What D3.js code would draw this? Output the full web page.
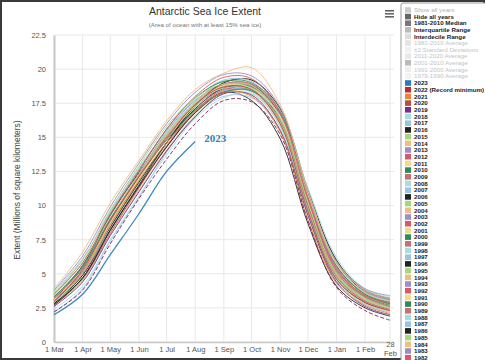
<!DOCTYPE html>
<html>
<head>
<meta charset="utf-8">
<script src="https://cdn.jsdelivr.net/npm/d3@7"></script>
<style>
  body { margin: 0; background: #fff; }
  svg { display: block; font-family: "Liberation Sans", Arial, sans-serif; }
</style>
</head>
<body>
<svg id="chart" width="485" height="360"></svg>
<script>
// month anchors (days after 1 Mar) and labels
const monthDays = [0, 31, 61, 92, 122, 153, 184, 214, 245, 275, 306, 337, 364];
const monthLabels = ['1 Mar', '1 Apr', '1 May', '1 Jun', '1 Jul', '1 Aug', '1 Sep',
                     '1 Oct', '1 Nov', '1 Dec', '1 Jan', '1 Feb', '28 Feb'];
const yTicks = [0, 2.5, 5, 7.5, 10, 12.5, 15, 17.5, 20, 22.5];

// extent per year, millions km2, read at each month anchor
const years = [2023, 2022, 2021, 2020, 2019, 2018, 2017, 2016, 2015, 2014, 2013, 2012,
  2011, 2010, 2009, 2008, 2007, 2006, 2005, 2004, 2003, 2002, 2001, 2000, 1999, 1998,
  1997, 1996, 1995, 1994, 1993, 1992, 1991, 1990, 1989, 1988, 1987, 1986, 1985, 1984,
  1983, 1982];
const extent = {
  2023: [2.0, 3.5, 6.4, 9.4, 12.5, 14.7],
  2022: [2.2, 3.8, 7.2, 10.5, 13.4, 16.0, 17.7, 17.6, 15.2, 8.9, 4.0, 2.3, 1.6],
  2021: [3.2, 5.0, 8.6, 11.8, 14.6, 16.9, 18.3, 18.0, 15.4, 9.0, 4.3, 2.7, 2.1],
  2020: [2.9, 5.3, 8.9, 12.1, 14.9, 17.4, 18.7, 18.5, 16.0, 9.6, 4.6, 2.9, 2.3],
  2019: [2.6, 4.4, 7.8, 11.0, 14.0, 16.5, 18.2, 18.1, 15.5, 9.3, 4.4, 2.6, 2.0],
  2018: [2.4, 4.1, 7.5, 10.7, 13.7, 16.4, 17.9, 18.2, 15.8, 9.4, 4.5, 2.7, 2.2],
  2017: [2.2, 3.9, 7.4, 10.6, 13.9, 16.6, 18.0, 17.9, 15.6, 9.5, 4.6, 2.8, 2.2],
  2016: [2.7, 4.7, 8.2, 11.4, 14.3, 16.8, 18.3, 17.7, 14.9, 8.7, 4.1, 2.5, 1.9],
  2015: [3.6, 6.0, 9.6, 12.9, 15.8, 17.9, 18.9, 18.6, 16.1, 9.8, 4.9, 3.1, 2.5],
  2014: [3.9, 6.6, 10.2, 13.3, 16.2, 18.5, 19.7, 20.1, 17.4, 11.1, 5.8, 3.8, 3.2],
  2013: [3.8, 6.3, 9.9, 13.1, 16.0, 18.3, 19.6, 19.5, 17.2, 11.0, 5.9, 3.9, 3.4],
  2012: [3.5, 5.8, 9.4, 12.6, 15.6, 18.0, 19.4, 19.3, 16.8, 10.6, 5.4, 3.4, 2.9],
  2011: [3.1, 5.3, 8.8, 12.0, 14.9, 17.3, 18.8, 18.6, 16.5, 10.8, 5.7, 3.6, 3.0],
  2010: [3.3, 5.6, 9.3, 12.5, 15.6, 17.9, 19.1, 19.0, 16.9, 10.9, 5.6, 3.5, 2.8],
  2009: [3.2, 5.4, 8.9, 12.1, 15.0, 17.4, 18.9, 18.9, 16.7, 10.5, 5.2, 3.3, 2.6],
  2008: [3.5, 6.0, 9.7, 12.8, 15.4, 17.5, 18.6, 18.5, 16.6, 11.3, 6.2, 3.9, 3.3],
  2007: [3.7, 6.1, 9.5, 12.7, 15.5, 17.8, 19.2, 19.1, 16.8, 10.7, 5.6, 3.7, 3.1],
  2006: [2.8, 4.7, 8.2, 11.5, 14.6, 17.3, 19.0, 19.2, 17.1, 11.2, 6.0, 3.8, 3.2],
  2005: [3.1, 5.3, 8.8, 12.1, 15.2, 17.6, 19.1, 18.8, 16.4, 10.2, 5.1, 3.2, 2.6],
  2004: [3.4, 5.8, 9.2, 12.3, 15.2, 17.5, 18.8, 18.8, 16.5, 10.3, 5.0, 3.1, 2.5],
  2003: [3.0, 5.2, 8.9, 12.3, 15.4, 17.7, 18.9, 18.7, 16.6, 10.6, 5.5, 3.6, 3.0],
  2002: [2.7, 4.6, 8.0, 11.3, 14.3, 16.9, 18.5, 18.5, 16.2, 9.9, 4.8, 3.0, 2.4],
  2001: [2.9, 4.7, 8.1, 11.2, 14.0, 16.5, 18.2, 18.2, 15.8, 9.5, 4.5, 2.8, 2.3],
  2000: [3.3, 5.5, 9.0, 12.1, 14.8, 17.0, 18.3, 18.4, 16.4, 10.2, 5.1, 3.3, 2.7],
  1999: [3.0, 5.2, 8.9, 12.2, 15.2, 17.5, 18.8, 18.8, 16.6, 10.5, 5.3, 3.4, 2.8],
  1998: [2.9, 5.0, 8.7, 12.0, 14.9, 17.3, 18.7, 18.6, 16.3, 10.3, 5.2, 3.2, 2.6],
  1997: [3.4, 5.1, 8.3, 11.4, 14.3, 16.8, 18.4, 18.4, 16.1, 9.8, 4.8, 3.0, 2.4],
  1996: [2.8, 4.9, 8.4, 11.7, 14.6, 17.1, 18.6, 18.7, 16.7, 10.8, 5.8, 3.7, 3.1],
  1995: [2.9, 5.1, 8.9, 12.3, 15.3, 17.6, 18.9, 18.7, 16.2, 9.7, 4.7, 3.0, 2.5],
  1994: [3.1, 5.3, 8.7, 11.9, 15.0, 17.5, 19.0, 19.2, 16.9, 10.7, 5.4, 3.4, 2.8],
  1993: [3.2, 5.4, 8.8, 12.1, 15.1, 17.3, 18.8, 18.9, 16.6, 10.4, 5.3, 3.4, 2.8],
  1992: [3.0, 5.2, 9.0, 12.0, 15.0, 17.3, 18.6, 18.5, 16.2, 10.0, 4.9, 3.1, 2.6],
  1991: [3.3, 5.3, 8.5, 11.5, 14.3, 16.8, 18.5, 18.6, 16.5, 10.5, 5.3, 3.3, 2.7],
  1990: [3.0, 5.1, 8.7, 11.8, 14.6, 16.8, 18.3, 18.5, 16.4, 10.4, 5.5, 3.5, 2.9],
  1989: [2.9, 4.9, 8.3, 11.4, 14.4, 16.9, 18.4, 18.4, 16.0, 9.9, 5.0, 3.2, 2.6],
  1988: [3.5, 5.8, 9.1, 12.2, 14.9, 17.0, 18.4, 18.3, 15.9, 9.6, 4.8, 3.1, 2.5],
  1987: [3.0, 4.9, 8.5, 11.7, 14.6, 17.0, 18.6, 18.6, 16.5, 11.0, 6.0, 3.6, 2.9],
  1986: [3.1, 5.6, 9.3, 12.4, 15.0, 17.0, 18.4, 18.8, 16.6, 9.8, 4.6, 2.9, 2.3],
  1985: [2.7, 4.5, 7.9, 11.3, 14.6, 17.2, 18.9, 18.9, 16.8, 10.7, 5.4, 3.3, 2.7],
  1984: [2.8, 4.7, 8.0, 11.1, 14.1, 16.6, 18.2, 18.4, 16.6, 10.3, 5.0, 3.0, 2.4],
  1983: [3.2, 5.4, 9.0, 12.2, 15.0, 17.5, 18.8, 18.8, 16.4, 10.1, 5.0, 3.1, 2.5],
  1982: [3.0, 5.2, 8.6, 12.0, 14.9, 17.3, 18.7, 18.8, 16.7, 10.6, 5.6, 3.6, 3.0]
};

// colours: recent years get their own, older years cycle by last digit
const recentColors = { 2023: '#2b7bba', 2022: '#c0282d', 2021: '#e8873a', 2020: '#b4513a', 2019: '#7a2c8c' };
const digitColors = ['#2e8b5e', '#f0dc88', '#d65a6a', '#9f8fc6', '#f0bf80',
                     '#a6d67e', '#222222', '#9ec2e2', '#a6dede', '#c96f72'];

const legendTop = [
  { name: 'Show all years', swatch: '#ccc', color: '#b0b0b0', bold: false },
  { name: 'Hide all years', swatch: '#666', color: '#222', bold: true },
  { name: '1981-2010 Median', swatch: '#777', color: '#222', bold: true },
  { name: 'Interquartile Range', swatch: '#bbb', color: '#222', bold: true },
  { name: 'Interdecile Range', swatch: '#ddd', color: '#222', bold: true },
  { name: '1981-2010 Average', swatch: '#e4e4e4', color: '#c4c4c4', bold: false },
  { name: '±2 Standard Deviations', swatch: '#f0f0f0', color: '#c4c4c4', bold: false },
  { name: '2011-2020 Average', swatch: '#e8e8e8', color: '#c4c4c4', bold: false },
  { name: '2001-2010 Average', swatch: '#bbb', color: '#c4c4c4', bold: false },
  { name: '1991-2000 Average', swatch: '#eee', color: '#c4c4c4', bold: false },
  { name: '1979-1990 Average', swatch: '#f2f2f2', color: '#c4c4c4', bold: false }
];

const colorOf = y => recentColors[y] || digitColors[y % 10];

const svg = d3.select('#chart');
const width = 485, height = 360;

const x = d3.scaleLinear().domain([0, 364]).range([54, 390]);
const y = d3.scaleLinear().domain([0, 22.5]).range([342, 35]);

// frame
svg.append('rect').attr('x', 1).attr('y', 1).attr('width', width - 2).attr('height', height - 2)
  .attr('fill', '#fff').attr('stroke', '#3a3a3a').attr('stroke-width', 2);

// title
svg.append('text').attr('x', 205).attr('y', 15).attr('text-anchor', 'middle')
  .attr('font-size', 10.5).attr('fill', '#333').text('Antarctic Sea Ice Extent');
svg.append('text').attr('x', 205).attr('y', 27).attr('text-anchor', 'middle')
  .attr('font-size', 6.2).attr('fill', '#777').text('(Area of ocean with at least 15% sea ice)');

// menu icon
[0, 3, 6].forEach(d => svg.append('rect').attr('x', 385).attr('y', 10 + d)
  .attr('width', 9).attr('height', 1.6).attr('fill', '#666'));

// grid
svg.append('g').selectAll('line').data(monthDays).join('line')
  .attr('x1', d => x(d)).attr('x2', d => x(d))
  .attr('y1', y(22.5)).attr('y2', y(0))
  .attr('stroke', '#e8e8e8').attr('stroke-width', 1);
svg.append('g').selectAll('line').data(yTicks).join('line')
  .attr('x1', x(0)).attr('x2', x(364) + 4)
  .attr('y1', d => y(d)).attr('y2', d => y(d))
  .attr('stroke', '#e8e8e8').attr('stroke-width', 1);

// axes
const xAxis = svg.append('g').attr('transform', `translate(0,${y(0)})`)
  .call(d3.axisBottom(x).tickValues(monthDays).tickSize(0).tickPadding(5)
    .tickFormat((d, i) => monthLabels[i]));
xAxis.select('.domain').attr('stroke', '#c8c8c8').attr('stroke-width', 1.5);
xAxis.selectAll('text').attr('font-size', 7.5).attr('fill', '#555')
  .attr('font-family', '"Liberation Sans", Arial, sans-serif');
xAxis.selectAll('.tick').filter((d, i) => i === 12).select('text')
  .text(null)
  .call(t => {
    t.append('tspan').attr('x', 0).attr('dy', 0).text('28');
    t.append('tspan').attr('x', 0).attr('dy', '1.15em').text('Feb');
  });

const yAxis = svg.append('g').attr('transform', `translate(${x(0)},0)`)
  .call(d3.axisLeft(y).tickValues(yTicks).tickSize(0).tickPadding(8)
    .tickFormat(d => String(d)));
yAxis.select('.domain').attr('stroke', '#c8c8c8').attr('stroke-width', 2);
yAxis.selectAll('text').attr('font-size', 7.5).attr('fill', '#555')
  .attr('font-family', '"Liberation Sans", Arial, sans-serif');

svg.append('text')
  .attr('transform', `translate(20,190) rotate(-90)`)
  .attr('text-anchor', 'middle').attr('font-size', 8.5).attr('fill', '#444')
  .text('Extent (Millions of square kilometers)');

// year lines
const line = d3.line()
  .x((d, i) => x(monthDays[i]))
  .y(d => y(d))
  .curve(d3.curveCatmullRom);

const drawOrder = years.slice().reverse();
svg.append('g').selectAll('path').data(drawOrder).join('path')
  .attr('d', yr => line(extent[yr]))
  .attr('fill', 'none')
  .attr('stroke', yr => yr === 2022 ? '#7e2458' : colorOf(yr))
  .attr('stroke-width', yr => yr === 2023 ? 1.3 : 1)
  .attr('stroke-dasharray', yr => yr === 2022 ? '4,2' : null)
  .attr('opacity', 0.9);

// 2023 label
const last23 = extent[2023].length - 1;
svg.append('text')
  .attr('x', x(monthDays[last23]) + 9).attr('y', y(extent[2023][last23]) + 1)
  .attr('font-family', '"Liberation Serif", "DejaVu Serif", serif')
  .attr('font-weight', 'bold').attr('font-size', 11).attr('fill', '#3a80b4')
  .text('2023');

// legend
const lg = svg.append('g');
lg.append('rect').attr('x', 401).attr('y', 3).attr('width', 90).attr('height', 370)
  .attr('rx', 2).attr('fill', '#fff').attr('stroke', '#999').attr('stroke-width', 1);

const items = legendTop.concat(years.map(yr => ({
  name: yr === 2022 ? '2022 (Record minimum)' : String(yr),
  swatch: colorOf(yr), color: '#222', bold: true
})));

const rowY = i => i < legendTop.length ? 10 + i * 6.6 : 83 + (i - legendTop.length) * 6.7;

const row = lg.selectAll('g.item').data(items).join('g')
  .attr('class', 'item')
  .attr('transform', (d, i) => `translate(405,${rowY(i)})`);
row.append('rect').attr('x', 0).attr('y', -2.8).attr('width', 6).attr('height', 5.6)
  .attr('fill', d => d.swatch);
row.append('text').attr('x', 9).attr('y', 2.2)
  .attr('font-size', 6.2).attr('font-weight', d => d.bold ? 'bold' : 'normal')
  .attr('fill', d => d.color).text(d => d.name);
</script>
</body>
</html>
